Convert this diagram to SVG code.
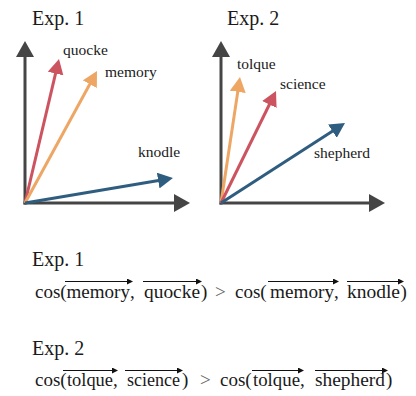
<svg xmlns="http://www.w3.org/2000/svg" width="416" height="396" viewBox="0 0 416 396">
<style>
.t{font-family:'Liberation Serif','DejaVu Serif','Noto Serif','Times New Roman',Times,serif;fill:#1a1a1a}
.title{font-size:20px}
.lbl{font-size:15.5px}
.f{font-size:19px}
.gt{fill:#666}
.ax{stroke:#454545;stroke-width:3;fill:none}
.red{stroke:#cc5460;stroke-width:3;fill:none}
.ora{stroke:#eda664;stroke-width:3;fill:none}
.blu{stroke:#2f5d80;stroke-width:3;fill:none}
.ov{stroke:#111;stroke-width:1.2;fill:none}
</style>
<defs>
<marker id="mAx" markerUnits="userSpaceOnUse" markerWidth="17" markerHeight="18" refX="6" refY="9" orient="auto"><path d="M0,0 L16,9 L0,18 z" fill="#454545"/></marker>
<marker id="mRed" markerUnits="userSpaceOnUse" markerWidth="16" markerHeight="16" refX="5" refY="8" orient="auto"><path d="M0,0 L15,8 L0,16 z" fill="#cc5460"/></marker>
<marker id="mOra" markerUnits="userSpaceOnUse" markerWidth="16" markerHeight="16" refX="5" refY="8" orient="auto"><path d="M0,0 L15,8 L0,16 z" fill="#eda664"/></marker>
<marker id="mBlu" markerUnits="userSpaceOnUse" markerWidth="16" markerHeight="16" refX="5" refY="8" orient="auto"><path d="M0,0 L15,8 L0,16 z" fill="#2f5d80"/></marker>
<marker id="mOv" markerUnits="userSpaceOnUse" markerWidth="7" markerHeight="6" refX="5" refY="3" orient="auto"><path d="M0,0 L6,3 L0,6 z" fill="#111"/></marker>
</defs>

<g id="exp1-plot">
<text class="t title" x="32" y="25">Exp. 1</text>
<g id="exp1-axes">
<line class="ax" x1="25" y1="204.5" x2="25" y2="51" marker-end="url(#mAx)"/>
<line class="ax" x1="23.5" y1="203" x2="180" y2="203" marker-end="url(#mAx)"/>
</g>
<g id="exp1-vectors">
<line class="red" x1="25" y1="203" x2="56.7" y2="68.7" marker-end="url(#mRed)"/>
<line class="ora" x1="25" y1="203" x2="92.2" y2="79.8" marker-end="url(#mOra)"/>
<line class="blu" x1="25" y1="203" x2="163.1" y2="179.7" marker-end="url(#mBlu)"/>
</g>
<text class="t lbl" x="63" y="55">quocke</text>
<text class="t lbl" x="105" y="77">memory</text>
<text class="t lbl" x="138" y="157">knodle</text>
</g>

<g id="exp2-plot">
<text class="t title" x="227" y="25">Exp. 2</text>
<g id="exp2-axes">
<line class="ax" x1="221" y1="204.5" x2="221" y2="51" marker-end="url(#mAx)"/>
<line class="ax" x1="219.5" y1="203" x2="375" y2="203" marker-end="url(#mAx)"/>
</g>
<g id="exp2-vectors">
<line class="ora" x1="221" y1="203" x2="238.5" y2="86.9" marker-end="url(#mOra)"/>
<line class="red" x1="221" y1="203" x2="271.6" y2="100" marker-end="url(#mRed)"/>
<line class="blu" x1="221" y1="203" x2="336.6" y2="128.4" marker-end="url(#mBlu)"/>
</g>
<text class="t lbl" x="237" y="69">tolque</text>
<text class="t lbl" x="280" y="89">science</text>
<text class="t lbl" x="314" y="158">shepherd</text>
</g>

<g id="exp1-formula">
<text class="t title" x="32" y="266">Exp. 1</text>
<text class="t f" x="35" y="298">cos(</text>
<text class="t f" x="66.5" y="298" textLength="63.5" lengthAdjust="spacingAndGlyphs">memory</text>
<text class="t f" x="130" y="298">,</text>
<text class="t f" x="144" y="298" textLength="56" lengthAdjust="spacingAndGlyphs">quocke</text>
<text class="t f" x="201" y="298">)</text>
<text class="t f gt" x="215" y="298">&gt;</text>
<text class="t f" x="235" y="298">cos(</text>
<text class="t f" x="270" y="298" textLength="64" lengthAdjust="spacingAndGlyphs">memory</text>
<text class="t f" x="334" y="298">,</text>
<text class="t f" x="347" y="298" textLength="53" lengthAdjust="spacingAndGlyphs">knodle</text>
<text class="t f" x="400.5" y="298">)</text>
<g id="exp1-overarrows">
<line class="ov" x1="65" y1="281.5" x2="132" y2="281.5" marker-end="url(#mOv)"/>
<line class="ov" x1="143" y1="281.5" x2="201" y2="281.5" marker-end="url(#mOv)"/>
<line class="ov" x1="268" y1="281.5" x2="338" y2="281.5" marker-end="url(#mOv)"/>
<line class="ov" x1="347" y1="281.5" x2="403" y2="281.5" marker-end="url(#mOv)"/>
</g>
</g>

<g id="exp2-formula">
<text class="t title" x="32" y="355">Exp. 2</text>
<text class="t f" x="35" y="386">cos(</text>
<text class="t f" x="67" y="386" textLength="46" lengthAdjust="spacingAndGlyphs">tolque</text>
<text class="t f" x="113" y="386">,</text>
<text class="t f" x="127" y="386" textLength="53" lengthAdjust="spacingAndGlyphs">science</text>
<text class="t f" x="182" y="386">)</text>
<text class="t f gt" x="200" y="386">&gt;</text>
<text class="t f" x="220" y="386">cos(</text>
<text class="t f" x="253" y="386" textLength="47" lengthAdjust="spacingAndGlyphs">tolque</text>
<text class="t f" x="300" y="386">,</text>
<text class="t f" x="315" y="386" textLength="70" lengthAdjust="spacingAndGlyphs">shepherd</text>
<text class="t f" x="386" y="386">)</text>
<g id="exp2-overarrows">
<line class="ov" x1="63" y1="370.5" x2="117" y2="370.5" marker-end="url(#mOv)"/>
<line class="ov" x1="125" y1="370.5" x2="182" y2="370.5" marker-end="url(#mOv)"/>
<line class="ov" x1="252" y1="370.5" x2="303" y2="370.5" marker-end="url(#mOv)"/>
<line class="ov" x1="315" y1="370.5" x2="387" y2="370.5" marker-end="url(#mOv)"/>
</g>
</g>
</svg>
